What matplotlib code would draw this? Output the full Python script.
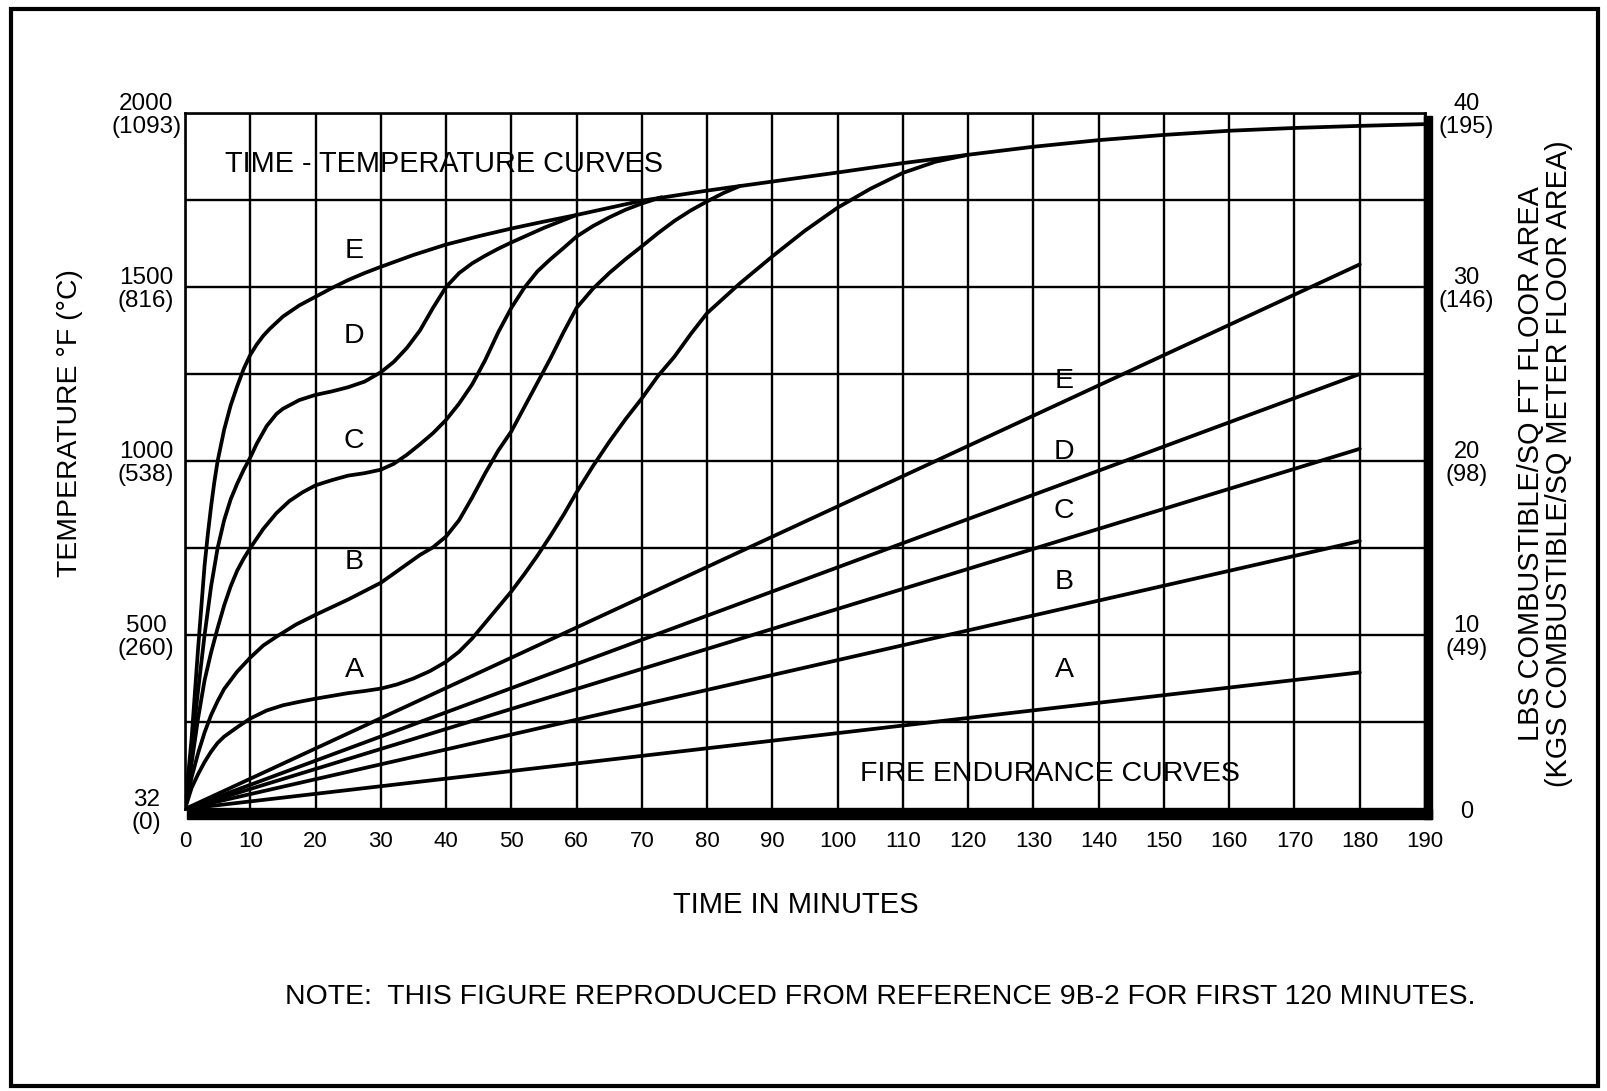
import matplotlib
matplotlib.use("Agg")
import matplotlib.pyplot as plt
import numpy as np
from matplotlib.patches import Rectangle

plt.rcParams['font.family'] = ['Liberation Sans', 'DejaVu Sans']

# time-temperature curves (minutes, deg F)
e_time = [0, 0.5, 1, 1.5, 2, 2.5, 3, 3.5, 4, 4.5, 5, 6, 7, 8, 9, 10, 11, 12, 13, 15,
          17.5, 20, 22.5, 25, 27.5, 30, 35, 40, 45, 50, 55, 60, 70, 80, 90, 100, 110,
          120, 130, 140, 150, 160, 170, 180, 190]
e_temp = [0, 100, 200, 330, 460, 580, 700, 790, 870, 940, 1000, 1090, 1160, 1215, 1265,
          1305, 1335, 1360, 1380, 1415, 1447, 1472, 1497, 1520, 1540, 1558, 1592, 1622,
          1646, 1668, 1688, 1707, 1748, 1777, 1803, 1829, 1856, 1880, 1903, 1922, 1937,
          1949, 1957, 1963, 1968]

d_time = [0, 1, 2, 3, 4, 5, 6, 7, 8, 9, 10, 11, 12.5, 14, 15, 17.5, 20, 22.5, 25, 27.5,
          30, 32, 34, 36, 38, 40, 42, 44, 46, 48, 50, 55, 60]
d_temp = [0, 170, 340, 500, 640, 750, 830, 890, 935, 975, 1010, 1050, 1100, 1135, 1150,
          1175, 1190, 1200, 1212, 1228, 1255, 1285, 1325, 1375, 1440, 1500, 1540, 1568,
          1590, 1610, 1628, 1670, 1707]

c_time = [0, 1, 2, 3, 4, 5, 6, 7, 8, 9, 10, 12, 14, 16, 18, 20, 22.5, 25, 27.5, 30,
          32, 34, 36, 38, 40, 42, 44, 46, 48, 50, 52, 54, 56, 58, 60, 62.5, 65, 67.5,
          70, 73]
c_temp = [0, 130, 260, 370, 450, 520, 585, 640, 685, 720, 750, 805, 850, 885, 910, 930,
          945, 958, 965, 975, 992, 1018, 1048, 1080, 1118, 1165, 1220, 1290, 1370, 1440,
          1498, 1545, 1580, 1612, 1645, 1675, 1700, 1722, 1740, 1758]

b_time = [0, 1, 2, 3, 4, 5, 6, 8, 10, 12, 14, 17, 20, 25, 30, 33, 36, 38, 40, 42, 44,
          46, 48, 50, 52, 54, 56, 58, 60, 62.5, 65, 67.5, 70, 72.5, 75, 77.5, 80, 82.5,
          85]
b_temp = [0, 90, 160, 220, 270, 310, 345, 395, 435, 470, 495, 530, 558, 602, 650, 690,
          730, 752, 783, 830, 895, 965, 1030, 1085, 1155, 1225, 1295, 1370, 1440, 1495,
          1540, 1580, 1617, 1655, 1690, 1720, 1746, 1770, 1790]

a_time = [0, 1, 2, 3, 4, 5, 6, 8, 10, 12.5, 15, 17.5, 20, 22.5, 25, 27.5, 30, 32.5,
          35, 37.5, 40, 42, 44, 46, 48, 50, 52, 54, 56, 58, 60, 62.5, 65, 67.5, 70,
          72.5, 75, 77.5, 80, 85, 90, 95, 100, 105, 110, 115, 120]
a_temp = [0, 60, 100, 135, 165, 190, 208, 235, 260, 283, 298, 308, 317, 325, 333, 339,
          346, 358, 375, 396, 423, 452, 490, 535, 580, 625, 675, 728, 785, 845, 910,
          985, 1055, 1120, 1180, 1245, 1300, 1365, 1425, 1510, 1588, 1662, 1728, 1782,
          1828, 1860, 1880]

# fire endurance curves (lbs combustible / sq ft at 0 and 180 minutes)
fe_time = [0, 180]
fe_a = [0, 7.85]
fe_b = [0, 15.4]
fe_c = [0, 20.7]
fe_d = [0, 25.0]
fe_e = [0, 31.3]

x_ticks = list(range(0, 191, 10))
y_ticks = [0, 500, 1000, 1500, 2000]
y_labels = ["32\n(0)", "500\n(260)", "1000\n(538)", "1500\n(816)", "2000\n(1093)"]
r_ticks = [0, 10, 20, 30, 40]
r_labels = ["0", "10\n(49)", "20\n(98)", "30\n(146)", "40\n(195)"]

W, H = 1608, 1091
fig = plt.figure(figsize=(W / 100, H / 100), dpi=100)
ax = fig.add_axes([185 / W, 1 - 809 / H, (1425 - 185) / W, (809 - 113) / H])

lw = 2.7
for t, f in [(e_time, e_temp), (d_time, d_temp), (c_time, c_temp),
             (b_time, b_temp), (a_time, a_temp)]:
    ax.plot(t, f, color='black', lw=lw, solid_capstyle='round',
            solid_joinstyle='round', zorder=3)

ax.set_xlim(0, 190)
ax.set_ylim(0, 2000)
ax.set_xticks(x_ticks)
ax.set_xticklabels([str(v) for v in x_ticks], fontsize=16)
ax.set_yticks(y_ticks)
ax.set_yticklabels(y_labels, fontsize=17.5, linespacing=1.05)
ax.set_yticks(np.arange(250, 2000, 500), minor=True)
ax.tick_params(axis='both', which='both', length=0)
ax.tick_params(axis='x', pad=16)
ax.tick_params(axis='y', pad=28)
for lab in ax.get_yticklabels():
    lab.set_horizontalalignment('center')
ax.grid(True, which='both', color='black', lw=1.7)
ax.set_axisbelow(True)
for sp in ax.spines.values():
    sp.set_linewidth(1.9)

ax2 = ax.twinx()
ax2.set_ylim(0, 40)
for vals in [fe_a, fe_b, fe_c, fe_d, fe_e]:
    ax2.plot(fe_time, vals, color='black', lw=lw, solid_capstyle='round', zorder=3)
ax2.set_yticks(r_ticks)
ax2.set_yticklabels(r_labels, fontsize=17, linespacing=1.05)
ax2.tick_params(axis='y', length=0, pad=30)
for lab in ax2.get_yticklabels():
    lab.set_horizontalalignment('center')
for sp in ax2.spines.values():
    sp.set_visible(False)

# curve letters
for letter, temp in zip("EDCBA", [1604, 1359, 1058, 710, 400]):
    ax.text(25.9, temp, letter, fontsize=20.5, ha='center', va='center')
for letter, temp in zip("EDCBA", [1229, 1026, 857, 651, 400]):
    ax.text(134.7, temp, letter, fontsize=20.5, ha='center', va='center')

ax.text(6.2, 1854, "TIME - TEMPERATURE CURVES", fontsize=20.8, ha='left', va='center')
ax.text(103.4, 100, "FIRE ENDURANCE CURVES", fontsize=20.5, ha='left', va='center')

# shadow bars along bottom and right edges
fig.patches.append(Rectangle((187 / W, 1 - 819 / H), (1432 - 187) / W, 10 / H,
                             transform=fig.transFigure, color='black', zorder=5))
fig.patches.append(Rectangle((1424 / W, 1 - 819 / H), 8 / W, (819 - 116) / H,
                             transform=fig.transFigure, color='black', zorder=5))

fig.text(796 / W, 1 - 905 / H, "TIME IN MINUTES", fontsize=21, ha='center', va='center')
fig.text(70 / W, 1 - 423 / H, "TEMPERATURE \u00b0F (\u00b0C)", fontsize=20.4,
         rotation=90, ha='center', va='center')
fig.text(1531 / W, 1 - 464 / H, "LBS COMBUSTIBLE/SQ FT FLOOR AREA", fontsize=20.8,
         rotation=90, ha='center', va='center')
fig.text(1559 / W, 1 - 464 / H, "(KGS COMBUSTIBLE/SQ METER FLOOR AREA)", fontsize=20.8,
         rotation=90, ha='center', va='center')
fig.text(285 / W, 1 - 997 / H,
         "NOTE:  THIS FIGURE REPRODUCED FROM REFERENCE 9B-2 FOR FIRST 120 MINUTES.",
         fontsize=20.4, ha='left', va='center')

# outer frame
fig.patches.append(Rectangle((11 / W, 1 - 1086 / H), (1598 - 11) / W, (1086 - 9) / H,
                             transform=fig.transFigure, fill=False, ec='black', lw=3))

fig.savefig("out.png", dpi=100)
